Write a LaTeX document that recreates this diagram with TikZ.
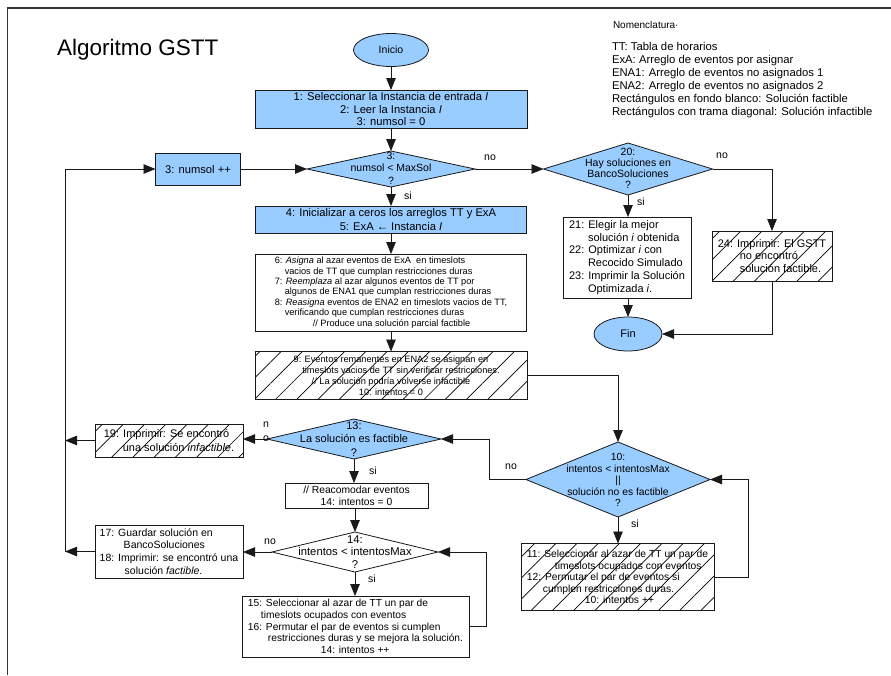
\documentclass[tikz,border=0pt]{standalone}
\usepackage{fontspec}
\setmainfont{Liberation Sans}
\usetikzlibrary{shapes.geometric,arrows.meta,patterns.meta}
\definecolor{flowblue}{RGB}{153,204,255}
\definecolor{linegray}{RGB}{25,25,25}
\newcommand{\fsz}[2]{\fontsize{#1}{#2}\selectfont}
\begin{document}
\begin{tikzpicture}[x=1pt,y=-1pt,
  every node/.style={inner sep=0pt, outer sep=0pt, text=black},
  sz/.style 2 args={minimum width=#1pt, minimum height=#2pt},
  arr/.style={draw=linegray, line width=0.8pt, -{Triangle[length=12pt,width=9.5pt]}},
  bluebox/.style={draw=linegray, line width=0.8pt, fill=flowblue, rectangle},
  whitebox/.style={draw=linegray, line width=0.8pt, fill=white, rectangle},
  hatchbox/.style={draw=linegray, line width=0.8pt, rectangle,
    pattern={Lines[angle=45,distance=15pt,line width=0.7pt]}, pattern color=black},
  decision/.style={draw=linegray, line width=0.8pt, shape=diamond},
  terminal/.style={draw=linegray, line width=0.8pt, fill=flowblue, ellipse},
  lbl/.style={font=\fsz{10.5}{14}},
]
\useasboundingbox (0,0) rectangle (891,675);
\fill[white] (0,0) rectangle (891,675);
% page frame
\draw[draw=black!80, line width=1.4pt] (7.5,675) -- (7.5,8) -- (891,8);

% heading and legend
\node[anchor=west, font=\fsz{22.5}{27}] (title) at (57,50) {Algoritmo GSTT};
\node[anchor=west, font=\fsz{10}{12}] (nomhead) at (613,25) {Nomenclatura·};
\node[anchor=north west, align=left, font=\fsz{11.3}{13}] (nom) at (612,42)
  {TT: Tabla de horarios\\ExA: Arreglo de eventos por asignar\\ENA1: Arreglo de eventos no asignados 1\\ENA2: Arreglo de eventos no asignados 2\\Rectángulos en fondo blanco: Solución factible\\Rectángulos con trama diagonal: Solución infactible};

% main column
\node[terminal, sz={75}{33}, font=\fsz{10.5}{12}] (inicio) at (391,50) {Inicio};
\node[bluebox, sz={272}{38}, align=center, font=\fsz{11.2}{12.6}] (b1) at (391,109)
  {1: Seleccionar la Instancia de entrada \textit{I}\\2: Leer la Instancia \textit{I}\\3: numsol = 0};
\node[decision, fill=flowblue, sz={168}{36}] (d3) at (391,169) {};
\node[align=center, font=\fsz{10.5}{12.5}] (d3t) at (391,168) {3:\\numsol < MaxSol\\?};
\node[bluebox, sz={85}{32}, font=\fsz{11.2}{13}] (b3) at (198,169) {3: numsol ++};
\node[bluebox, sz={271}{27}, align=center, font=\fsz{11.2}{13.5}] (b4) at (391,219.5)
  {4: Inicializar a ceros los arreglos TT y ExA\\5: ExA ← Instancia \textit{I}};
\node[whitebox, sz={271}{77}, align=left, font=\fsz{9.2}{10.4}] (b6) at (391,292.5)
  {6: \textit{Asigna} al azar eventos de ExA\ \ en timeslots\\
   \hspace*{10pt}vacios de TT que cumplan restricciones duras\\
   7: \textit{Reemplaza} al azar algunos eventos de TT por\\
   \hspace*{10pt}algunos de ENA1 que cumplan restricciones duras\\
   8: \textit{Reasigna} eventos de ENA2 en timeslots vacios de TT,\\
   \hspace*{10pt}verificando que cumplan restricciones duras\\
   \hspace*{38pt}// Produce una solución parcial factible};
\node[hatchbox, sz={272}{48}, align=center, font=\fsz{9.2}{11}] (b9) at (391,375.5)
  {9: Eventos remanentes en ENA2 se asignan en\\
   \hspace*{20pt}timeslots vacios de TT sin verificar restricciones.\\
   // La solución podría volverse infactible\\10: intentos = 0};

% inner loop of the feasibility repair
\node[decision, fill=flowblue, sz={184}{75}] (d10) at (618,479.5) {};
\node[align=center, font=\fsz{10.3}{11.6}] (d10t) at (618,480)
  {10:\\intentos < intentosMax\\||\\solución no es factible\\?};
\node[hatchbox, sz={193}{67}, align=left, font=\fsz{10.3}{11.6}] (b11) at (617.5,577)
  {11: Seleccionar al azar de TT un par de\\
   \hspace*{28pt}timeslots ocupados con eventos\\
   12: Permutar el par de eventos si\\
   \hspace*{16pt}cumplen restricciones duras.\\
   \hspace*{58pt}10: intentos ++};

% feasibility test
\node[decision, fill=flowblue, sz={174}{40}] (d13) at (354,439) {};
\node[align=center, font=\fsz{11}{13.5}] (d13t) at (354,439) {13:\\La solución es factible\\?};
\node[hatchbox, sz={148}{33}, align=left, font=\fsz{11}{13.5}] (b19) at (169,440.5)
  {19: Imprimir: Se encontró\\\hspace*{19pt}una solución \textit{infactible}.};
\node[whitebox, sz={143}{25}, align=center, font=\fsz{10.3}{12}] (b14) at (356.5,495.5)
  {// Reacomodar eventos\\14: intentos = 0};
\node[decision, fill=white, sz={166}{40}] (d14) at (355,552) {};
\node[align=center, font=\fsz{11.3}{12.5}] (d14t) at (355,552) {14:\\intentos < intentosMax\\?};
\node[whitebox, sz={148}{53}, align=left, font=\fsz{10.5}{12.7}] (b17) at (169,551.5)
  {17: Guardar solución en\\\hspace*{24pt}BancoSoluciones\\18: Imprimir: se encontró una\\\hspace*{25pt}solución \textit{factible}.};
\node[whitebox, sz={227}{61}, align=left, font=\fsz{10.2}{11.6}] (b15) at (355.5,626.5)
  {15: Seleccionar al azar de TT un par de\\
   \hspace*{13pt}timeslots ocupados con eventos\\
   16: Permutar el par de eventos si cumplen\\
   \hspace*{20pt}restricciones duras y se mejora la solución.\\
   \hspace*{73pt}14: intentos ++};

% final stage
\node[decision, fill=flowblue, sz={169}{52}] (d20) at (628,169) {};
\node[align=center, font=\fsz{10.5}{11}] (d20t) at (628,168.5) {20:\\Hay soluciones en\\BancoSoluciones\\?};
\node[whitebox, sz={128}{81}, align=left, font=\fsz{11}{12.8}] (b21) at (627,257.5)
  {21: Elegir la mejor\\\hspace*{19pt}solución \textit{i} obtenida\\22: Optimizar \textit{i} con\\\hspace*{19pt}Recocido Simulado\\23: Imprimir la Solución\\\hspace*{19pt}Optimizada \textit{i}.};
\node[terminal, sz={68}{34}, font=\fsz{11}{13}] (fin) at (628,334) {Fin};
\node[hatchbox, sz={120}{50}, align=left, font=\fsz{11}{12.5}] (b24) at (772,256)
  {24: Imprimir: El GSTT\\\hspace*{22pt}no encontró\\\hspace*{22pt}solución factible.};

% routing columns
\coordinate (rail) at (65,0);
\coordinate (r11) at (748,0);
\coordinate (r10) at (489,0);
\coordinate (r15) at (486,0);

% connectors
\draw[arr] (inicio) -- (b1);
\draw[arr] (b1) -- (d3);
\draw[arr] (b3) -- (d3);
\draw[arr] (d3.south) -- (b4.north);
\draw[arr] (d3.east) -- (d20.west);
\draw[arr] (b4) -- (b6);
\draw[arr] (b6) -- (b9);
\draw[arr] (b9.east) -| (d10.north);
\draw[arr] (d10.south) -- (d10.south |- b11.north);
\draw[arr] (b11.east) -- (b11.east -| r11) |- (d10.east);
\draw[arr] (d10.west) -- (d10.west -| r10) |- (d13.east);
\draw[arr] (d13.west) -- (d13.west -| b19.east);
\draw[arr] (d13.south) -- (d13.south |- b14.north);
\draw[arr] (d14.north |- b14.south) -- (d14.north);
\draw[arr] (d14.west) -- (d14.west -| b17.east);
\draw[arr] (d14.south) -- (d14.south |- b15.north);
\draw[arr] (b15.east) -- (b15.east -| r15) |- (d14.east);
\draw[arr] (b19.west) -- (b19.west -| rail);
\draw[arr] (b17.west) -- (b17.west -| rail);
\draw[arr] (b17.west -| rail) |- (b3.west);
\draw[arr] (d20.south) -- (d20.south |- b21.north);
\draw[arr] (d20.east) -| (b24.north);
\draw[arr] (fin.north |- b21.south) -- (fin.north);
\draw[arr] (b24.south) |- (fin.east);

% branch labels
\node[lbl] (no3) at (490,158) {no};
\node[lbl] (si3) at (408,196) {si};
\node[lbl] (no20) at (722,156) {no};
\node[lbl] (si20) at (641,202) {si};
\node[lbl] (no10) at (511,467) {no};
\node[lbl] (si10) at (635,524) {si};
\node[lbl, align=center] (no13) at (266,432) {n\\o};
\node[lbl] (si13) at (373,471) {si};
\node[lbl] (no14) at (270,542) {no};
\node[lbl] (si14) at (372,579) {si};
\end{tikzpicture}
\end{document}
